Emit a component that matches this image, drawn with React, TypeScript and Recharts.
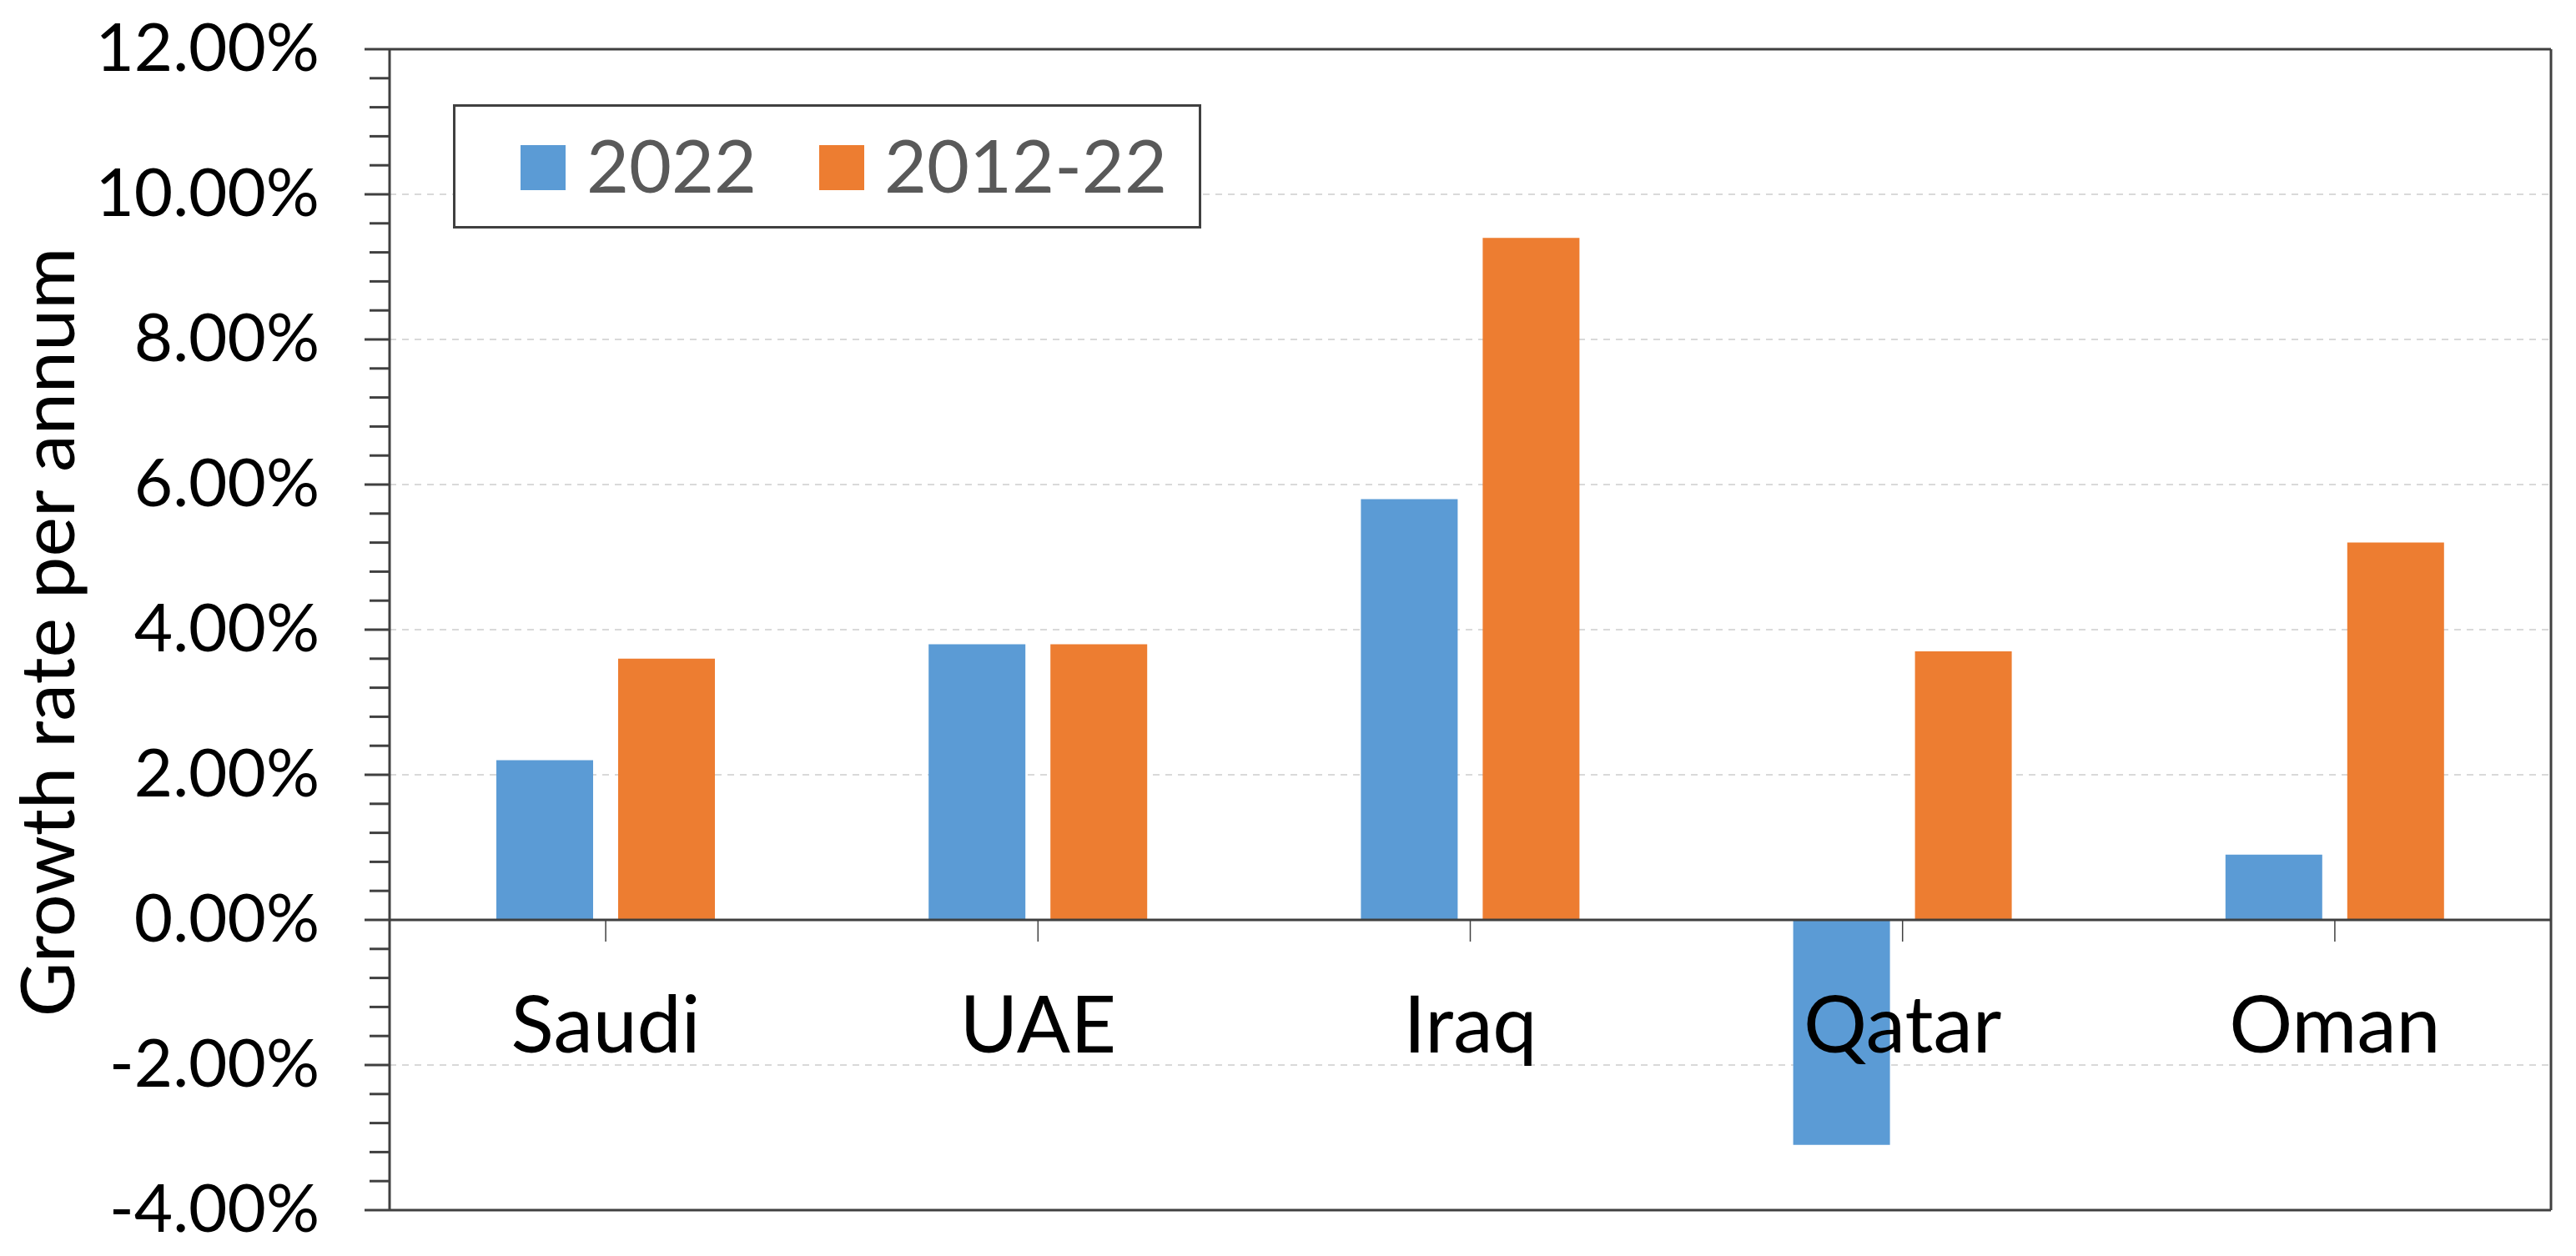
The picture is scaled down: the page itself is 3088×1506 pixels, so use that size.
import React from 'react';
import { BarChart, Bar, XAxis, YAxis, ReferenceLine, Legend, CartesianGrid } from 'recharts';

const categories = ['Saudi', 'UAE', 'Iraq', 'Qatar', 'Oman'];
const growth2022 = [2.2, 3.8, 5.8, -3.1, 0.9];
const growth2012_22 = [3.6, 3.8, 9.4, 3.7, 5.2];
const seriesNames = ['2022', '2012-22'];
const seriesColors = ['#5B9BD5', '#ED7D31'];
const majorTicks = [-4, -2, 0, 2, 4, 6, 8, 10, 12];
const gridValues = [-2, 2, 4, 6, 8, 10];
const Y_MIN = -4;
const Y_MAX = 12;
const MINOR_STEP = 0.4;

const allTicks: number[] = [];
for (let i = 0; i <= Math.round((Y_MAX - Y_MIN) / MINOR_STEP); i++) {
  allTicks.push(Number((Y_MIN + i * MINOR_STEP).toFixed(1)));
}

const data = categories.map((c, i) => ({ name: c, s2022: growth2022[i], s2012: growth2012_22[i] }));

const W = 3088;
const H = 1506;
const MARGIN = { top: 59, right: 29, bottom: 54, left: 0 };
const X_AXIS_H = 1;
const PLOT_H = H - MARGIN.top - MARGIN.bottom - X_AXIS_H;
const FONT = "Lato, 'Open Sans', sans-serif";
const AXIS = '#404040';

const YTick = (props: any) => {
  const { x, y, payload } = props;
  const v = payload.value as number;
  const isMajor = majorTicks.some((m) => Math.abs(m - v) < 1e-6);
  const len = isMajor ? 30 : 24;
  return (
    <g>
      <line x1={x - len} x2={x} y1={y} y2={y} stroke={AXIS} strokeWidth={3} />
      {isMajor && (
        <text x={x - 84} y={y} dy={26} textAnchor="end" fontSize={80} fill="#000" fontFamily={FONT}>
          {v.toFixed(2) + '%'}
        </text>
      )}
    </g>
  );
};

const XTick = (props: any) => {
  const { x, y, payload } = props;
  const zeroY = y - (PLOT_H * (0 - Y_MIN)) / (Y_MAX - Y_MIN);
  return (
    <g>
      <line x1={x} x2={x} y1={zeroY} y2={zeroY + 26} stroke={AXIS} strokeWidth={1.5} />
      <text x={x} y={zeroY + 159} textAnchor="middle" fontSize={95} fill="#000" fontFamily={FONT}>
        {payload.value}
      </text>
    </g>
  );
};

const YTitle = (props: any) => {
  const vb = props.viewBox || { x: 0, y: MARGIN.top, width: 467, height: PLOT_H };
  const cx = vb.x + 89;
  const cy = vb.y + vb.height / 2 + 3;
  return (
    <text
      x={cx}
      y={cy}
      transform={`rotate(-90, ${cx}, ${cy})`}
      textAnchor="middle"
      fontSize={90}
      fill="#000"
      fontFamily={FONT}
    >
      Growth rate per annum
    </text>
  );
};

const LegendBox = (props: any) => {
  const payload = [...(props.payload || [])].sort(
    (a: any, b: any) => seriesNames.indexOf(a.value) - seriesNames.indexOf(b.value)
  );
  const squareX = [81, 439];
  const textX = [160, 517];
  return (
    <div
      style={{
        position: 'relative',
        width: 891,
        height: 143,
        border: `3px solid ${AXIS}`,
        background: '#fff',
        fontFamily: FONT,
      }}
    >
      {payload.map((p: any, i: number) => (
        <React.Fragment key={p.value}>
          <div
            style={{
              position: 'absolute',
              left: squareX[i] - 3,
              top: 46,
              width: 54,
              height: 54,
              background: p.color,
            }}
          />
          <div
            style={{
              position: 'absolute',
              left: textX[i] - 3,
              top: 14,
              fontSize: 88,
              lineHeight: '110px',
              color: '#595959',
              whiteSpace: 'nowrap',
            }}
          >
            {p.value}
          </div>
        </React.Fragment>
      ))}
    </div>
  );
};

export default function App() {
  return (
    <div style={{ position: 'absolute', left: 0, top: 0, width: W, height: H }}>
      <BarChart width={W} height={H} data={data} margin={MARGIN} barSize={116} barGap={30}>
        <CartesianGrid
          horizontal
          vertical={false}
          horizontalValues={gridValues}
          stroke="#d9d9d9"
          strokeWidth={2}
          strokeDasharray="8 7"
        />
        <XAxis
          dataKey="name"
          height={X_AXIS_H}
          tickSize={0}
          tickMargin={0}
          tickLine={false}
          tick={<XTick />}
          interval={0}
          axisLine={{ stroke: AXIS, strokeWidth: 3 }}
        />
        <YAxis
          type="number"
          domain={[Y_MIN, Y_MAX]}
          ticks={allTicks}
          interval={0}
          width={467}
          tickSize={0}
          tickMargin={0}
          tickLine={false}
          tick={<YTick />}
          allowDataOverflow
          axisLine={{ stroke: AXIS, strokeWidth: 3 }}
          label={<YTitle />}
        />
        <YAxis
          yAxisId="right"
          orientation="right"
          type="number"
          domain={[Y_MIN, Y_MAX]}
          width={1}
          tick={false}
          tickLine={false}
          axisLine={{ stroke: AXIS, strokeWidth: 3 }}
        />
        <Legend
          layout="horizontal"
          verticalAlign="middle"
          align="center"
          wrapperStyle={{ left: 543, top: 125, width: 897, height: 149 }}
          content={<LegendBox />}
        />
        <Bar dataKey="s2022" name={seriesNames[0]} fill={seriesColors[0]} isAnimationActive={false} />
        <Bar dataKey="s2012" name={seriesNames[1]} fill={seriesColors[1]} isAnimationActive={false} />
        <ReferenceLine y={Y_MAX} stroke={AXIS} strokeWidth={3} />
        <ReferenceLine y={0} stroke={AXIS} strokeWidth={3} />
      </BarChart>
    </div>
  );
}
